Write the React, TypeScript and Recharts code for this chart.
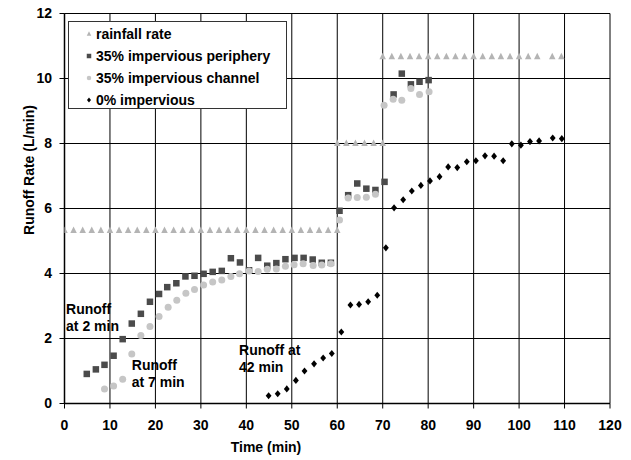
import React from "react";
import {
  Label,
  Legend,
  ReferenceDot,
  Scatter,
  ScatterChart,
  CartesianGrid,
  XAxis,
  YAxis,
} from "recharts";

const FONT = "'Liberation Sans', Arial, Helvetica, sans-serif";

const xTicks = [0, 10, 20, 30, 40, 50, 60, 70, 80, 90, 100, 110, 120];
const yTicks = [0, 2, 4, 6, 8, 10, 12];

// rainfall rate (three steps)
const rainTime = [
  0, 2, 4, 6, 8, 10, 12, 14, 16, 18, 20, 22, 24, 26, 28, 30, 32, 34, 36, 38, 40, 42, 44, 46, 48, 50, 52, 54, 56, 58, 60,
  60, 62, 64, 66, 68, 70,
  70, 72, 74, 76, 78, 80, 82, 84, 86, 88, 90, 92, 94, 96, 98, 100, 102, 104, 107.3, 109.3,
];
const rainRate = [
  5.33, 5.33, 5.33, 5.33, 5.33, 5.33, 5.33, 5.33, 5.33, 5.33, 5.33, 5.33, 5.33, 5.33, 5.33, 5.33, 5.33, 5.33, 5.33, 5.33, 5.33, 5.33, 5.33, 5.33, 5.33, 5.33, 5.33, 5.33, 5.33, 5.33, 5.33,
  8, 8, 8, 8, 8, 8,
  10.67, 10.67, 10.67, 10.67, 10.67, 10.67, 10.67, 10.67, 10.67, 10.67, 10.67, 10.67, 10.67, 10.67, 10.67, 10.67, 10.67, 10.67, 10.67, 10.67,
];

// 35% impervious periphery
const periTime = [
  4.9, 6.9, 8.8, 10.8, 12.8, 14.8, 16.8, 18.8, 20.8, 22.6, 24.6, 26.6, 28.6, 30.6, 32.6, 34.6, 36.6, 38.6, 40.6, 42.6,
  44.6, 46.6, 48.6, 50.6, 52.6, 54.6, 56.6, 58.6, 60.5, 62.4, 64.4, 66.4, 68.4, 70.4, 72.4, 74.2, 76.2, 78.1, 80.1,
];
const periRate = [
  0.91, 1.05, 1.19, 1.47, 1.98, 2.46, 2.76, 3.13, 3.37, 3.58, 3.7, 3.91, 3.93, 3.99, 4.05, 4.08, 4.47, 4.34, 4.1, 4.48,
  4.24, 4.32, 4.44, 4.48, 4.48, 4.43, 4.33, 4.33, 5.93, 6.41, 6.77, 6.61, 6.57, 6.82, 9.51, 10.15, 9.82, 9.9, 9.95,
];

// 35% impervious channel
const chanTime = [
  8.8, 10.8, 12.8, 14.8, 16.8, 18.8, 20.8, 22.8, 24.7, 26.7, 28.6, 30.6, 32.6, 34.6, 36.6, 38.5, 40.6, 42.6, 44.6,
  46.6, 48.6, 50.5, 52.5, 54.7, 56.6, 58.6, 60.5, 62.4, 64.4, 66.4, 68.4, 70.3, 72.3, 74.2, 76.2, 78.1, 80.2,
];
const chanRate = [
  0.45, 0.54, 0.75, 1.52, 2.09, 2.37, 2.68, 2.96, 3.18, 3.39, 3.51, 3.65, 3.74, 3.8, 3.91, 3.99, 4.08, 4.06, 4.13,
  4.14, 4.22, 4.27, 4.3, 4.25, 4.26, 4.3, 5.65, 6.32, 6.34, 6.35, 6.44, 9.18, 9.36, 9.33, 9.69, 9.51, 9.59,
];

// 0% impervious
const zeroTime = [
  44.9, 46.9, 48.9, 50.9, 52.8, 54.9, 56.9, 58.8, 60.9, 62.9, 64.8, 66.8, 68.8, 70.7, 72.5, 74.5, 76.4, 78.4, 80.4,
  82.5, 84.4, 86.4, 88.5, 90.5, 92.5, 94.5, 96.5, 98.4, 100.4, 102.4, 104.4, 107.4, 109.4,
];
const zeroRate = [
  0.24, 0.3, 0.45, 0.71, 1.0, 1.22, 1.4, 1.54, 2.2, 3.03, 3.05, 3.13, 3.33, 4.79, 6.02, 6.27, 6.54, 6.71, 6.85,
  6.98, 7.28, 7.26, 7.44, 7.47, 7.62, 7.61, 7.47, 7.99, 7.95, 8.06, 8.08, 8.17, 8.15,
];

const notes = [
  { x: 0.35, y: 2.75, lines: ["Runoff", "at 2 min"] },
  { x: 14.8, y: 1.03, lines: ["Runoff", "at 7 min"] },
  { x: 38.4, y: 1.49, lines: ["Runoff at", "42 min"] },
];

const pts = (t: number[], v: number[]) => t.map((x, i) => ({ x, y: v[i] }));

const C_RAIN = "#b4b4b4";
const C_PERI = "#4b4b4b";
const C_CHAN = "#c6c6c6";
const C_ZERO = "#000000";

const tri = (cx: number, cy: number, s: number, fill: string) => (
  <path d={`M${cx},${cy - s * 0.6}L${cx + s / 2},${cy + s * 0.4}L${cx - s / 2},${cy + s * 0.4}Z`} fill={fill} />
);
const sq = (cx: number, cy: number, s: number, fill: string) => (
  <rect x={cx - s / 2} y={cy - s / 2} width={s} height={s} fill={fill} />
);
const dot = (cx: number, cy: number, s: number, fill: string) => <circle cx={cx} cy={cy} r={s / 2} fill={fill} />;
const dia = (cx: number, cy: number, s: number, fill: string) => (
  <path d={`M${cx},${cy - s * 0.55}L${cx + s * 0.45},${cy}L${cx},${cy + s * 0.55}L${cx - s * 0.45},${cy}Z`} fill={fill} />
);

const series = [
  { name: "rainfall rate", data: pts(rainTime, rainRate), mk: tri, color: C_RAIN, size: 6.5 },
  { name: "35% impervious periphery", data: pts(periTime, periRate), mk: sq, color: C_PERI, size: 6.5 },
  { name: "35% impervious channel", data: pts(chanTime, chanRate), mk: dot, color: C_CHAN, size: 7 },
  { name: "0% impervious", data: pts(zeroTime, zeroRate), mk: dia, color: C_ZERO, size: 6.5 },
];

const textStyle = { fontFamily: FONT, fontSize: 14, fontWeight: "bold" as const, fill: "#000" };

function LegendBox() {
  return (
    <div
      style={{
        width: 219,
        height: 88,
        boxSizing: "border-box",
        border: "1px solid #333",
        background: "#fff",
        position: "relative",
        fontFamily: FONT,
        fontSize: 14,
        fontWeight: "bold",
        color: "#000",
      }}
    >
      {series.map((s, i) => (
        <div key={s.name} style={{ position: "absolute", left: 0, top: 1 + i * 22, height: 22, width: 217 }}>
          <svg width={12} height={22} style={{ position: "absolute", left: 14, top: 0 }}>
            {s.mk(6, 11, 4.5, s.color)}
          </svg>
          <span style={{ position: "absolute", left: 27, top: 3, whiteSpace: "nowrap", lineHeight: "16px" }}>
            {s.name}
          </span>
        </div>
      ))}
    </div>
  );
}

export default function App() {
  return (
    <div style={{ position: "absolute", left: 0, top: 0, width: 631, height: 460, background: "#fff" }}>
      <ScatterChart width={631} height={460} margin={{ top: 13.5, right: 21, bottom: 0, left: 0 }}>
        <CartesianGrid stroke="#000" strokeWidth={1} fill="none" />
        <XAxis
          type="number"
          dataKey="x"
          domain={[0, 120]}
          ticks={xTicks}
          interval={0}
          height={56.5}
          tickSize={5}
          tickMargin={12}
          tick={textStyle}
          tickLine={{ stroke: "#000" }}
          axisLine={{ stroke: "#000", strokeWidth: 1.5 }}
          allowDataOverflow
        >
          <Label
            content={() => (
              <text x={266} y={452} textAnchor="middle" style={textStyle}>
                Time (min)
              </text>
            )}
          />
        </XAxis>
        <YAxis
          type="number"
          dataKey="y"
          domain={[0, 12]}
          ticks={yTicks}
          interval={0}
          width={64.5}
          tickSize={5}
          tickMargin={7.5}
          tick={textStyle}
          tickLine={{ stroke: "#000" }}
          axisLine={{ stroke: "#000", strokeWidth: 1.5 }}
          allowDataOverflow
        >
          <Label
            content={() => (
              <text
                transform="translate(29,170) rotate(-90)"
                textAnchor="middle"
                dominantBaseline="central"
                style={textStyle}
              >
                Runoff Rate (L/min)
              </text>
            )}
          />
        </YAxis>
        <Legend
          layout="vertical"
          align="center"
          verticalAlign="middle"
          wrapperStyle={{ position: "absolute", left: 68, top: 21, width: 219, height: 88 }}
          content={() => <LegendBox />}
        />
        {series.map((s) => (
          <Scatter
            key={s.name}
            name={s.name}
            data={s.data}
            isAnimationActive={false}
            shape={(p: any) => s.mk(p.cx, p.cy, s.size, s.color)}
          />
        ))}
        {notes.map((n) => (
          <ReferenceDot
            key={n.lines.join(" ")}
            x={n.x}
            y={n.y}
            r={0}
            isFront
            shape={(p: any) => (
              <text x={p.cx} y={p.cy} style={textStyle}>
                <tspan x={p.cx}>{n.lines[0]}</tspan>
                <tspan x={p.cx} dy={17}>
                  {n.lines[1]}
                </tspan>
              </text>
            )}
          />
        ))}
      </ScatterChart>
    </div>
  );
}
